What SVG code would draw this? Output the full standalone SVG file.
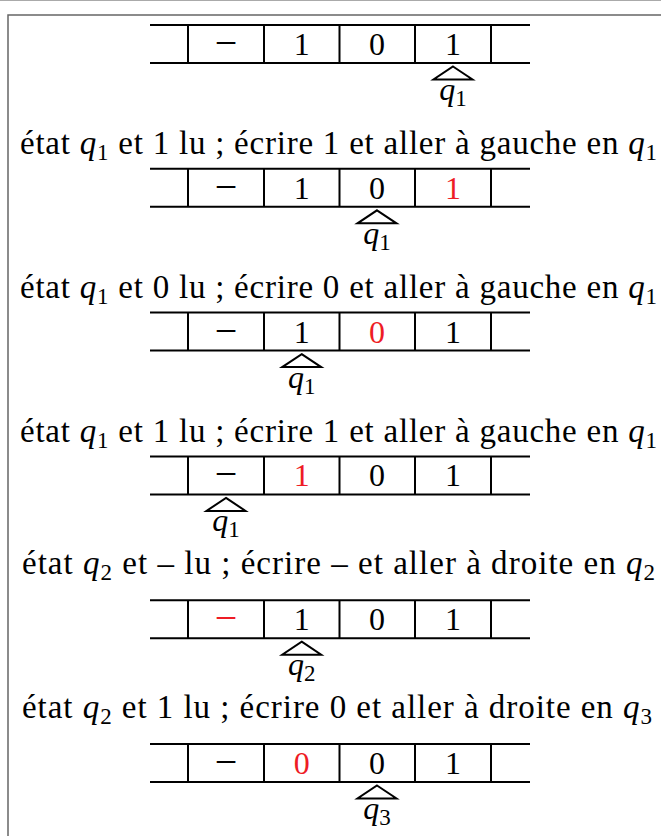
<svg xmlns="http://www.w3.org/2000/svg" width="661" height="836" viewBox="0 0 661 836">
<style>
.ln{stroke:#000;stroke-width:2;fill:none}
.hd{stroke:#000;stroke-width:2;fill:#fff;stroke-linejoin:miter}
.c{font-family:"Liberation Serif",serif;font-size:32px;text-anchor:middle;fill:#000}
.d{font-size:40px}
.r{fill:#ee1c25}
.t{font-family:"Liberation Serif",serif;font-size:33px;fill:#000}
.q{font-style:italic}
.s{font-size:23px}
</style>
<defs>
<g id="tape">
<path class="ln" d="M150 0H530M150 38H530M188 0V38M264 0V38M339.5 0V38M415 0V38M491 0V38"/>
</g>
<path id="head" class="hd" d="M0 3.5L19.5 16.5H-19.5Z"/>
</defs>
<rect width="661" height="836" fill="#fff"/>
<path d="M0 0.5H661" stroke="#aaa" stroke-width="1"/>
<path d="M8 836V15H661" stroke="#666" stroke-width="1.5" fill="none"/>

<g id="tape1" transform="translate(0,25)">
<use href="#tape"/>
<text class="c d" x="226" y="31">−</text><text class="c" x="301.7" y="30">1</text><text class="c" x="377" y="30">0</text><text class="c" x="453" y="30">1</text>
<use href="#head" x="453" y="38"/>
<text class="c" x="453" y="75"><tspan class="q">q</tspan><tspan class="s" dy="6">1</tspan></text>
</g>
<g id="label1"><text class="t" x="20" y="154" textLength="637" lengthAdjust="spacing">état <tspan class="q">q</tspan><tspan class="s" dy="6">1</tspan><tspan dy="-6"> et 1 lu ; écrire 1 et aller à gauche en </tspan><tspan class="q">q</tspan><tspan class="s" dy="6">1</tspan></text></g>

<g id="tape2" transform="translate(0,168.8)">
<use href="#tape"/>
<text class="c d" x="226" y="31">−</text><text class="c" x="301.7" y="30">1</text><text class="c" x="377" y="30">0</text><text class="c r" x="453" y="30">1</text>
<use href="#head" x="377" y="38"/>
<text class="c" x="377" y="75"><tspan class="q">q</tspan><tspan class="s" dy="6">1</tspan></text>
</g>
<g id="label2"><text class="t" x="20" y="298" textLength="637" lengthAdjust="spacing">état <tspan class="q">q</tspan><tspan class="s" dy="6">1</tspan><tspan dy="-6"> et 0 lu ; écrire 0 et aller à gauche en </tspan><tspan class="q">q</tspan><tspan class="s" dy="6">1</tspan></text></g>

<g id="tape3" transform="translate(0,312.6)">
<use href="#tape"/>
<text class="c d" x="226" y="31">−</text><text class="c" x="301.7" y="30">1</text><text class="c r" x="377" y="30">0</text><text class="c" x="453" y="30">1</text>
<use href="#head" x="301.7" y="38"/>
<text class="c" x="301.7" y="75"><tspan class="q">q</tspan><tspan class="s" dy="6">1</tspan></text>
</g>
<g id="label3"><text class="t" x="20" y="442" textLength="637" lengthAdjust="spacing">état <tspan class="q">q</tspan><tspan class="s" dy="6">1</tspan><tspan dy="-6"> et 1 lu ; écrire 1 et aller à gauche en </tspan><tspan class="q">q</tspan><tspan class="s" dy="6">1</tspan></text></g>

<g id="tape4" transform="translate(0,456.4)">
<use href="#tape"/>
<text class="c d" x="226" y="31">−</text><text class="c r" x="301.7" y="30">1</text><text class="c" x="377" y="30">0</text><text class="c" x="453" y="30">1</text>
<use href="#head" x="226" y="38"/>
<text class="c" x="226" y="75"><tspan class="q">q</tspan><tspan class="s" dy="6">1</tspan></text>
</g>
<g id="label4"><text class="t" x="22" y="574" textLength="633" lengthAdjust="spacing">état <tspan class="q">q</tspan><tspan class="s" dy="6">2</tspan><tspan dy="-6"> et – lu ; écrire – et aller à droite en </tspan><tspan class="q">q</tspan><tspan class="s" dy="6">2</tspan></text></g>

<g id="tape5" transform="translate(0,600.2)">
<use href="#tape"/>
<text class="c d r" x="226" y="31">−</text><text class="c" x="301.7" y="30">1</text><text class="c" x="377" y="30">0</text><text class="c" x="453" y="30">1</text>
<use href="#head" x="301.7" y="38"/>
<text class="c" x="301.7" y="75"><tspan class="q">q</tspan><tspan class="s" dy="6">2</tspan></text>
</g>
<g id="label5"><text class="t" x="22" y="718" textLength="630" lengthAdjust="spacing">état <tspan class="q">q</tspan><tspan class="s" dy="6">2</tspan><tspan dy="-6"> et 1 lu ; écrire 0 et aller à droite en </tspan><tspan class="q">q</tspan><tspan class="s" dy="6">3</tspan></text></g>

<g id="tape6" transform="translate(0,744)">
<use href="#tape"/>
<text class="c d" x="226" y="31">−</text><text class="c r" x="301.7" y="30">0</text><text class="c" x="377" y="30">0</text><text class="c" x="453" y="30">1</text>
<use href="#head" x="377" y="38"/>
<text class="c" x="377" y="75"><tspan class="q">q</tspan><tspan class="s" dy="6">3</tspan></text>
</g>
<g id="connectors"/>
</svg>
